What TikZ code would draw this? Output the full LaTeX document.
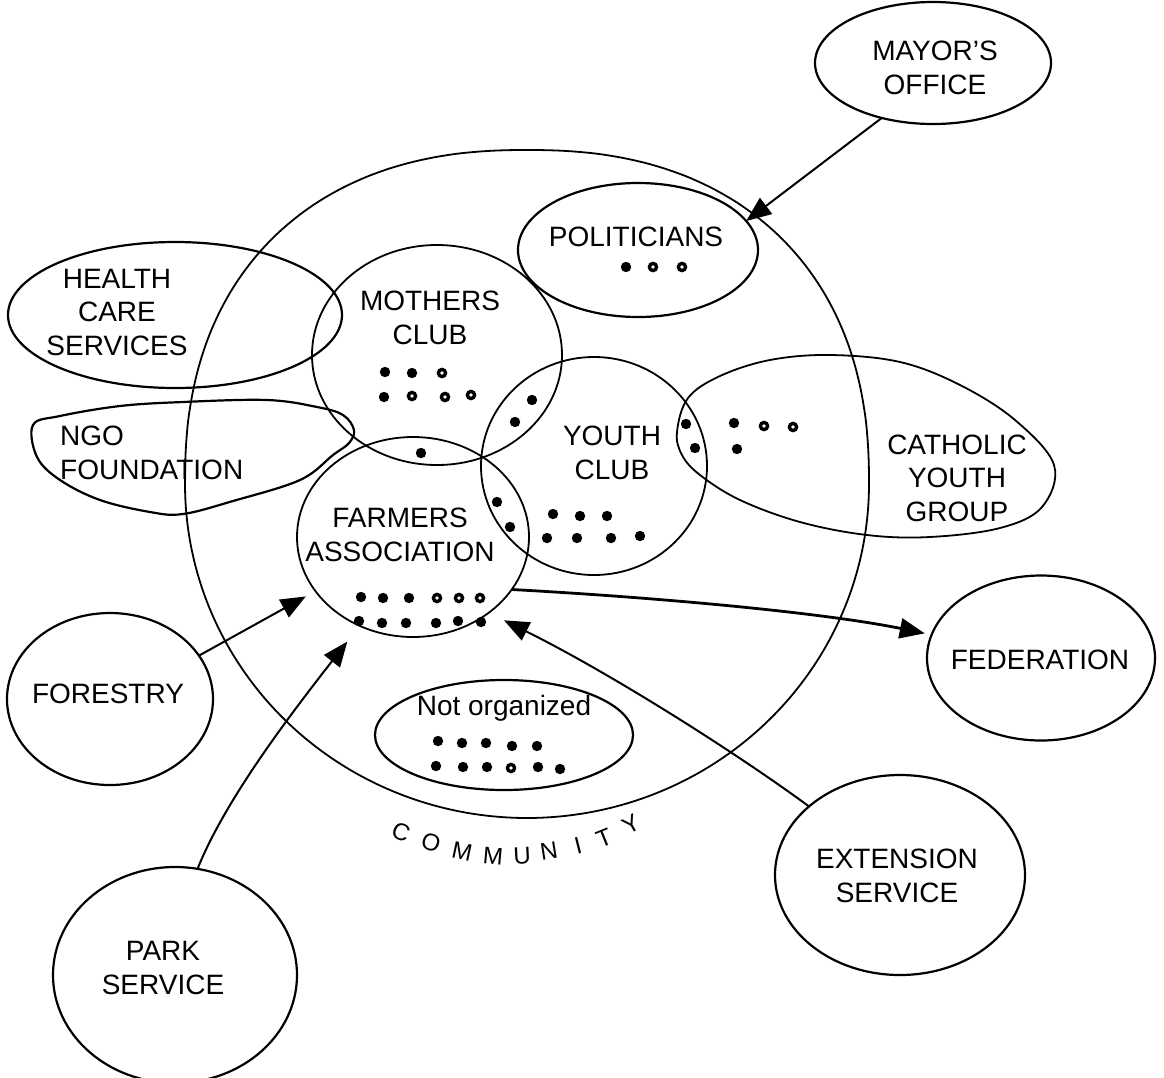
\documentclass[tikz,border=0pt]{standalone}
\usepackage{fontspec}
\setmainfont{Liberation Sans}
\usetikzlibrary{shapes.geometric,arrows.meta}
\begin{document}
\begin{tikzpicture}[x=1pt,y=-1pt,
  blob/.style={draw, ellipse, line width=2.2pt, inner sep=0pt, outer sep=0pt},
  lbl/.style={font=\fontsize{28}{33.5}\selectfont, align=center, inner sep=0pt},
  comm/.style={font=\fontsize{24}{24}\selectfont, inner sep=0pt},
  outline/.style={line width=2.2pt},
  arr/.style={line width=2pt, -{Triangle[length=25pt,width=20pt]}},
]
\useasboundingbox (0,0) rectangle (1164,1077);

% community circle (a little fuller on top, elliptical below)
\draw[line width=1.8pt]
  plot[domain=0:180, samples=120, smooth, variable=\t]
    ({527+342*sign(cos(\t))*pow(abs(cos(\t))+0.000001,0.87)},
     {484-334*pow(abs(sin(\t))+0.000001,0.87)})
  -- plot[domain=180:360, samples=100, smooth, variable=\t]
    ({527+342*cos(\t)},{484-334*sin(\t)}) -- cycle;
\foreach \ch/\x/\y/\r [count=\i] in {C/401/832/-22, O/431/843/-18, M/462/851/-12,
  M/493/856/-5, U/522/856/3, N/549/851/9, I/578/846/14, T/604/838/22, Y/631/824/30}
  \node[comm, rotate=\r] (cm\i) at (\x,\y) {\ch};

% outer organisations
\node[blob, minimum width=236pt, minimum height=122pt] (mayor) at (933,63) {};
\node[lbl] (mayort) at (935,68) {MAYOR’S\\OFFICE};

\node[blob, minimum width=334pt, minimum height=146pt] (health) at (175,315) {};
\node[lbl] (healtht) at (117,312) {HEALTH\\CARE\\SERVICES};

\draw[outline] plot[smooth cycle, tension=0.6] coordinates {
 (33,425) (60,416) (120,406) (183,402) (267,400) (317,407) (343,415)
 (354,430) (349,443) (333,455) (300,480) (233,501) (183,514) (150,512)
 (100,500) (60,480) (37,457)};
\node[lbl, align=left, anchor=west] (ngo) at (60,453) {NGO\\FOUNDATION};

\node[blob, minimum width=206pt, minimum height=172pt] (forestry) at (110,699) {};
\node[lbl] (forestryt) at (108,694) {FORESTRY};

\node[blob, minimum width=244pt, minimum height=216pt] (park) at (175,975) {};
\node[lbl] (parkt) at (163,968) {PARK\\SERVICE};

\node[blob, minimum width=250pt, minimum height=200pt] (ext) at (900,875) {};
\node[lbl] (extt) at (897,876) {EXTENSION\\SERVICE};

\node[blob, minimum width=228pt, minimum height=165pt] (fed) at (1041,658) {};
\node[lbl] (fedt) at (1040,660) {FEDERATION};

% inner groups
\node[blob, minimum width=240pt, minimum height=134pt] (pol) at (638,250) {};
\node[lbl] (polt) at (636,237) {POLITICIANS};

\node[blob, line width=1.8pt, minimum width=250pt, minimum height=220pt] (mothers) at (437,355) {};
\node[lbl] (motherst) at (430,318) {MOTHERS\\CLUB};

\node[blob, line width=1.8pt, minimum width=226pt, minimum height=218pt] (youth) at (594,466) {};
\node[lbl] (youtht) at (612,453) {YOUTH\\CLUB};

\node[blob, line width=1.8pt, minimum width=232pt, minimum height=200pt] (farmers) at (413,537) {};
\node[lbl] (farmerst) at (400,535) {FARMERS\\ASSOCIATION};

\draw[line width=1.8pt] plot[smooth cycle, tension=0.6] coordinates {
 (677,432) (688,398) (720,376) (770,360) (830,355) (900,362) (960,385)
 (1015,420) (1054,465) (1042,507) (1000,528) (930,537) (867,535)
 (800,522) (740,500) (700,475) (682,455)};
\node[lbl] (catht) at (957,478) {CATHOLIC\\YOUTH\\GROUP};

\node[blob, minimum width=258pt, minimum height=110pt] (notorg) at (504,735) {};
\node[lbl] (notorgt) at (504,708) {Not organized};

% members (filled dots)
\foreach \x/\y in {626/267,
  385/372, 412/373, 384/397,
  532/400, 515/422, 421/453, 497/502, 510/527,
  553/514, 580/516, 607/516, 547/538, 577/538, 611/538, 640/536,
  686/424, 695/448, 734/423, 737/449,
  361/597, 383/598, 409/598, 359/621, 382/623, 406/623, 436/623, 458/621, 481/622,
  438/741, 462/743, 486/743, 512/746, 537/746,
  436/766, 463/767, 487/767, 538/767, 560/769}
  \fill (\x,\y) circle (5.2pt);
\foreach \x/\y in {653/267, 682/267, 442/373, 412/396, 445/397, 471/395,
  764/426, 793/427, 437/598, 459/598, 480/598, 511/768}
  {\fill (\x,\y) circle (5.4pt); \fill[white] (\x,\y) circle (1.8pt);}

% connectors
\draw[arr] (mayor.227) -- (pol.15.7);
\draw[arr, shorten >=11pt] (forestry.26) -- (farmers.209);
\draw[arr, shorten >=20pt] (park.78) .. controls (225,800) and (290,715) .. (farmers.239);
\draw[arr, shorten >=17pt] (ext.143) .. controls (735,752) and (610,673) .. (farmers.315.5);
\draw[arr, line width=2.8pt, shorten >=7pt] (farmers.332) .. controls (650,597) and (820,612) .. (fed.168);
\end{tikzpicture}
\end{document}
